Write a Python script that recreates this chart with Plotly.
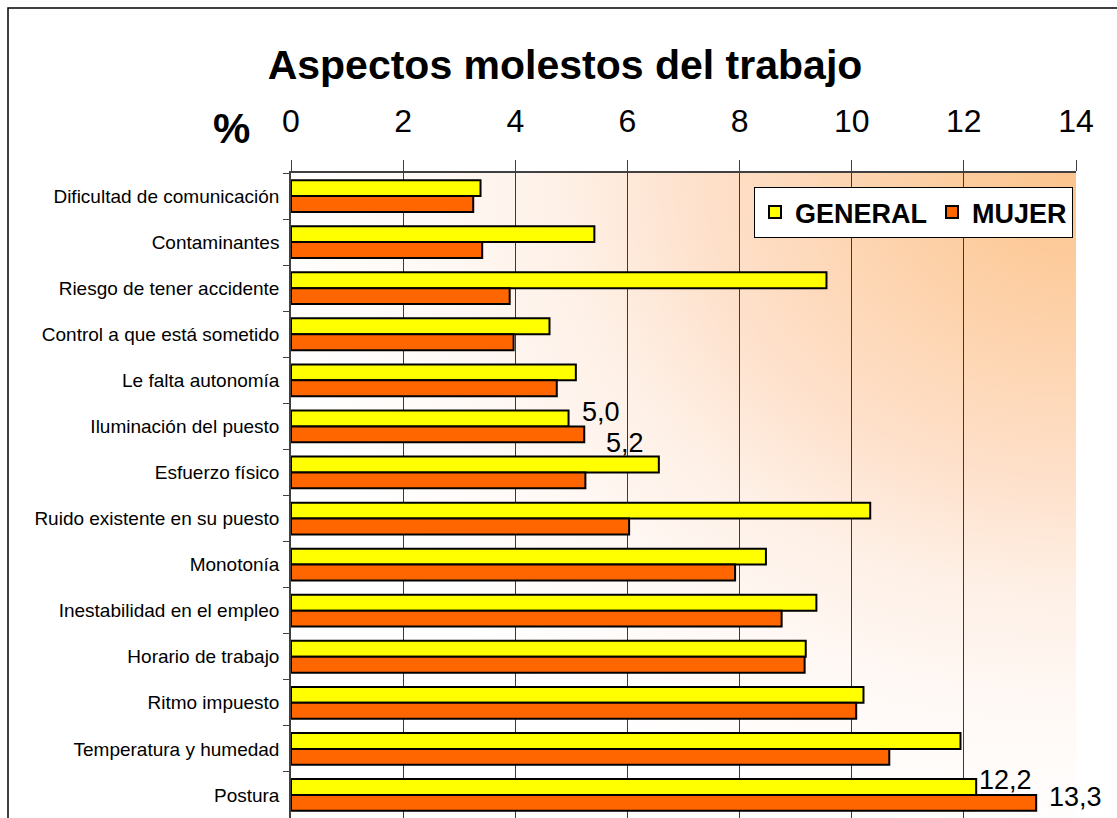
import base64
import plotly.graph_objects as go

# ---------------- data ----------------
categories = [
    "Dificultad de comunicación",
    "Contaminantes",
    "Riesgo de tener accidente",
    "Control a que está sometido",
    "Le falta autonomía",
    "Iluminación del puesto",
    "Esfuerzo físico",
    "Ruido existente en su puesto",
    "Monotonía",
    "Inestabilidad en el empleo",
    "Horario de trabajo",
    "Ritmo impuesto",
    "Temperatura y humedad",
    "Postura",
]
general = [3.38, 5.41, 9.55, 4.61, 5.08, 4.95, 6.56, 10.33, 8.47, 9.37, 9.18, 10.21, 11.94, 12.22]
mujer = [3.25, 3.41, 3.90, 3.97, 4.74, 5.23, 5.25, 6.03, 7.92, 8.75, 9.16, 10.08, 10.67, 13.29]
tick_values = [0, 2, 4, 6, 8, 10, 12, 14]
tick_labels = ["0", "2", "4", "6", "8", "10", "12", "14"]

# value labels shown on the chart
label_category = ["Iluminación del puesto", "Iluminación del puesto", "Postura", "Postura"]
label_series = ["GENERAL", "MUJER", "GENERAL", "MUJER"]
label_text = ["5,0", "5,2", "12,2", "13,3"]

# ---------------- style ----------------
W, H = 1117, 818
ML, MR, MT, MB = 291, 41, 173, 0
PW, PH = W - ML - MR, H - MT - MB
FONT = "Liberation Sans, Arial, sans-serif"
label_shift = [(11, 14), (20, -17), (1, 15), (11, -2)]

def px_to_paper_x(px):
    return (px - ML) / PW

def px_to_paper_y(py):
    return 1 - (py - MT) / PH

# gradient background (radial from top-right corner)
svg = (
    '<svg xmlns="http://www.w3.org/2000/svg" width="400" height="400" '
    'viewBox="0 0 400 400" preserveAspectRatio="none">'
    '<defs><radialGradient id="g" cx="1" cy="0" r="1.05" fx="1" fy="0">'
    '<stop offset="0" stop-color="#FCC48E"/>'
    '<stop offset="0.12" stop-color="#FDCB9B"/>'
    '<stop offset="0.45" stop-color="#FEE0CA"/>'
    '<stop offset="0.62" stop-color="#FEF0E6"/>'
    '<stop offset="0.8" stop-color="#FFF9F6"/>'
    '<stop offset="1" stop-color="#FFFFFF"/>'
    '</radialGradient></defs>'
    '<rect width="400" height="400" fill="url(#g)"/></svg>'
)
bg_src = "data:image/svg+xml;base64," + base64.b64encode(svg.encode()).decode()

fig = go.Figure()
fig.add_trace(go.Bar(
    name="GENERAL", y=categories, x=general, orientation="h",
    marker=dict(color="#FFFF00", line=dict(color="#000000", width=2)),
))
fig.add_trace(go.Bar(
    name="MUJER", y=categories, x=mujer, orientation="h",
    marker=dict(color="#FF6600", line=dict(color="#000000", width=2)),
))

series_values = {"GENERAL": general, "MUJER": mujer}
annotations = []
for cat, ser, txt, (dx, dy) in zip(label_category, label_series, label_text, label_shift):
    val = series_values[ser][categories.index(cat)]
    annotations.append(dict(
        x=val, y=cat, xref="x", yref="y", text=txt, showarrow=False,
        xanchor="left", yanchor="middle", xshift=dx, yshift=dy,
        font=dict(family=FONT, size=27, color="#000000"),
    ))

annotations.append(dict(
    x=px_to_paper_x(231), y=px_to_paper_y(128), xref="paper", yref="paper",
    text="<b>%</b>", showarrow=False, xanchor="center", yanchor="middle",
    font=dict(family=FONT, size=42, color="#000000"),
))

fig.update_layout(
    width=W, height=H,
    margin=dict(l=ML, r=MR, t=MT, b=MB, pad=0, autoexpand=False),
    paper_bgcolor="#FFFFFF",
    plot_bgcolor="rgba(0,0,0,0)",
    barmode="group",
    bargap=0.31,
    bargroupgap=0,
    title=dict(
        text="<b>Aspectos molestos del trabajo</b>",
        x=565 / W, xref="container", xanchor="center",
        y=1 - 65 / H, yref="container", yanchor="middle",
        font=dict(family=FONT, size=41, color="#000000"),
    ),
    xaxis=dict(
        side="top", range=[0, 14], tickvals=tick_values, ticktext=tick_labels,
        showgrid=True, gridcolor="#3A3A3A", gridwidth=1,
        showline=True, linecolor="#404040", linewidth=2,
        ticks="outside", ticklen=11, tickcolor="#404040", tickwidth=1,
        ticklabelstandoff=15,
        tickfont=dict(family=FONT, size=32, color="#000000"),
        zeroline=False, fixedrange=True, automargin=False,
    ),
    yaxis=dict(
        categoryorder="array", categoryarray=categories,
        range=[len(categories) - 0.5, -0.5], autorange=False,
        showline=True, linecolor="#404040", linewidth=1.5,
        ticks="outside", ticklen=6, tickcolor="#404040", tickson="boundaries",
        tickfont=dict(family=FONT, size=19, color="#000000"),
        ticklabelstandoff=6,
        showgrid=False, zeroline=False, fixedrange=True, automargin=False,
    ),
    legend=dict(
        orientation="h", x=px_to_paper_x(754), y=px_to_paper_y(187),
        xanchor="left", yanchor="top",
        bgcolor="#FFFFFF", bordercolor="#000000", borderwidth=1,
        font=dict(family=FONT, size=27, color="#000000", weight="bold"),
        itemclick=False, itemdoubleclick=False,
    ),
    images=[dict(
        source=bg_src, xref="x domain", yref="y domain", x=0, y=1,
        sizex=1, sizey=1, sizing="stretch", xanchor="left", yanchor="top",
        layer="below",
    )],
    shapes=[dict(
        type="rect", xref="paper", yref="paper",
        x0=px_to_paper_x(8), x1=px_to_paper_x(W + 10),
        y0=px_to_paper_y(H + 10), y1=px_to_paper_y(8),
        line=dict(color="#000000", width=1.5), fillcolor="rgba(0,0,0,0)",
        layer="above",
    )],
    annotations=annotations,
    showlegend=True,
)

fig.write_html(
    "out.html",
    config={"displayModeBar": False},
    post_script="document.body.style.margin='0';document.body.style.padding='0';",
)
